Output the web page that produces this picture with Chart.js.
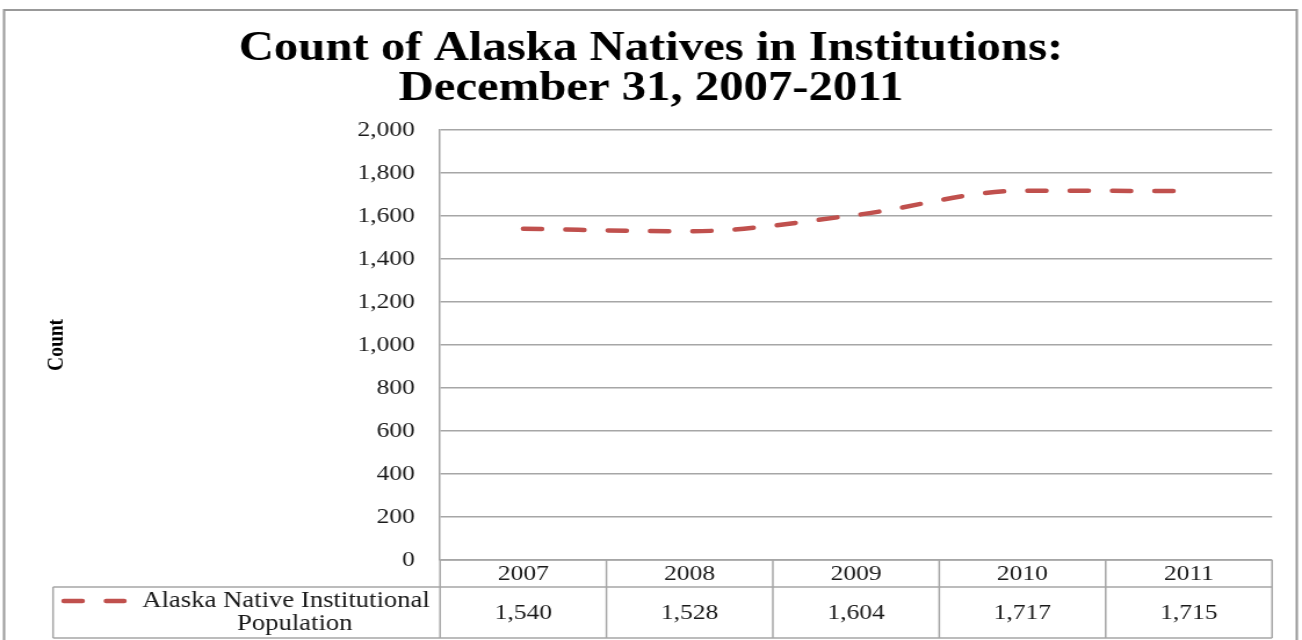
<!DOCTYPE html>
<html>
<head>
<meta charset="utf-8">
<title>Count of Alaska Natives in Institutions</title>
<script src="https://cdn.jsdelivr.net/npm/chart.js@4.4.1/dist/chart.umd.min.js"></script>
<style>
  html, body { margin: 0; padding: 0; background: #fff; overflow: hidden; }
</style>
</head>
<body>
<!-- the source picture is stretched sideways, so the canvas is drawn narrow and widened by its inline style -->
<canvas id="chart" width="1122" height="640" style="display:block;width:1302px;height:640px;"></canvas>
<script>
/********************** DATA ************************/
const years = ['2007', '2008', '2009', '2010', '2011'];
const counts = [1540, 1528, 1604, 1717, 1715];
const seriesLabel = ['Alaska Native Institutional', 'Population'];
const titleLines = ['Count of Alaska Natives in Institutions:', 'December 31, 2007-2011'];
const yAxisTitle = 'Count';
const yMin = 0;
const yMax = 2000;
const yStep = 200;

/********************** STYLE ***********************/
const SERIF = '"Liberation Serif", "Times New Roman", serif';
const LINE_COLOR = '#c0504d';
const GRID_COLOR = '#a6a6a6';
const TEXT_COLOR = '#1a1a1a';
const LINE_DASH = [16, 20.5];
const SIDE_PAD = 25.8;

/******************** HELPERS ***********************/
function fmt(n) {
  return Number(n).toLocaleString('en-US');
}

/******************** PLUGINS ***********************/
// white page + grey frame round the whole chart
const framePlugin = {
  id: 'frame',
  beforeDraw(chart) {
    const { ctx, width, height } = chart;
    ctx.save();
    ctx.fillStyle = '#fff';
    ctx.fillRect(0, 0, width, height);
    ctx.strokeStyle = '#999';
    ctx.lineWidth = 2;
    ctx.strokeRect(3.5, 10, width - 8, height + 20);
    ctx.restore();
  }
};

// data table under the plot (years row + values row with legend key)
const dataTablePlugin = {
  id: 'dataTable',
  afterDraw(chart) {
    const { ctx, chartArea, scales } = chart;
    const xScale = scales.x;
    const colW = (chartArea.right - chartArea.left) / years.length;
    const top = chartArea.bottom;
    const mid = top + 27;
    const bottom = 638;
    const keyLeft = 45.7;

    ctx.save();
    ctx.strokeStyle = GRID_COLOR;
    ctx.lineWidth = 1.5;
    ctx.beginPath();
    ctx.moveTo(chartArea.left, top);
    ctx.lineTo(chartArea.right, top);
    ctx.moveTo(keyLeft, mid);
    ctx.lineTo(chartArea.right, mid);
    ctx.moveTo(keyLeft, bottom);
    ctx.lineTo(chartArea.right, bottom);
    ctx.moveTo(keyLeft, mid);
    ctx.lineTo(keyLeft, bottom);
    for (let i = 0; i <= years.length; i++) {
      const xx = chartArea.left + i * colW;
      ctx.moveTo(xx, top);
      ctx.lineTo(xx, bottom);
    }
    ctx.stroke();

    // texts
    ctx.fillStyle = TEXT_COLOR;
    ctx.font = '22px ' + SERIF;
    ctx.textAlign = 'center';
    ctx.textBaseline = 'middle';
    years.forEach((y, i) => {
      const cx = xScale.getPixelForValue(i);
      ctx.fillText(y, cx, (top + mid) / 2 + 1);
      ctx.fillText(fmt(counts[i]), cx, (mid + bottom) / 2 + 1);
    });

    ctx.font = '23px ' + SERIF;
    ctx.fillText(seriesLabel[0], 246.5, mid + 14);
    ctx.fillText(seriesLabel[1], 254, mid + 37);

    // legend key
    ctx.strokeStyle = LINE_COLOR;
    ctx.lineWidth = 4.5;
    ctx.lineCap = 'round';
    ctx.setLineDash(LINE_DASH);
    ctx.beginPath();
    ctx.moveTo(55, mid + 14);
    ctx.lineTo(107, mid + 14);
    ctx.stroke();
    ctx.restore();
  }
};

/********************** CHART ***********************/
const chart = new Chart(document.getElementById('chart'), {
  type: 'line',
  data: {
    labels: years,
    datasets: [{
      label: seriesLabel.join(' '),
      data: counts,
      borderColor: LINE_COLOR,
      borderWidth: 4.5,
      borderDash: LINE_DASH,
      borderCapStyle: 'round',
      cubicInterpolationMode: 'monotone',
      pointRadius: 0,
      fill: false
    }]
  },
  options: {
    responsive: false,
    animation: false,
    layout: { padding: { top: 0, left: SIDE_PAD, right: SIDE_PAD, bottom: 80 } },
    plugins: {
      legend: { display: false },
      tooltip: { enabled: false },
      title: {
        display: true,
        text: titleLines,
        color: '#000',
        font: { family: SERIF, size: 42, weight: 'bold', lineHeight: 0.95 },
        padding: { top: 29, bottom: 21 }
      }
    },
    scales: {
      x: {
        display: false,
        offset: true
      },
      y: {
        min: yMin,
        max: yMax,
        afterFit(scale) { scale.width = 379.2 - SIDE_PAD; },
        ticks: {
          stepSize: yStep,
          padding: 21.6,
          color: TEXT_COLOR,
          font: { family: SERIF, size: 22 },
          callback: v => fmt(v)
        },
        grid: {
          color: GRID_COLOR,
          lineWidth: 1.5,
          drawTicks: false
        },
        border: { color: GRID_COLOR, width: 1.5 },
        title: {
          display: true,
          text: yAxisTitle,
          color: '#000',
          font: { family: SERIF, size: 19.5, weight: 'bold' },
          padding: { top: 11.5, bottom: 0 }
        }
      }
    }
  },
  plugins: [framePlugin, dataTablePlugin]
});
</script>
</body>
</html>
